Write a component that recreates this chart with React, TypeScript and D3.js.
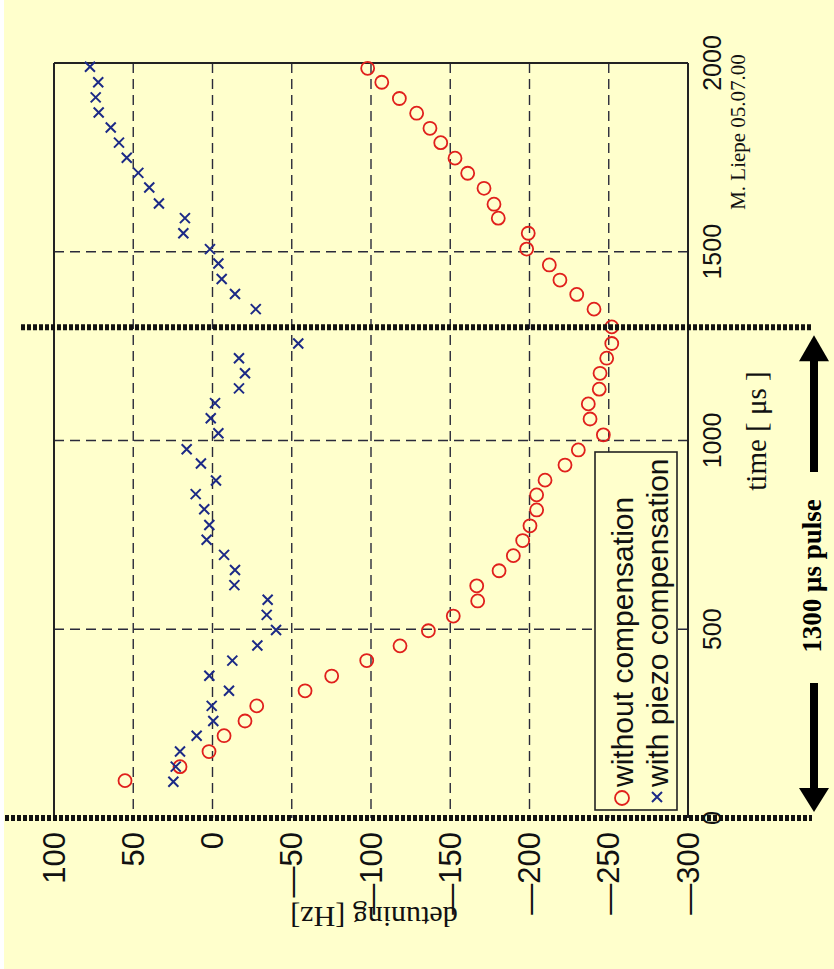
import React from "react";
import * as d3 from "d3";

// ---- data (time in µs, detuning in Hz) ----
const timeTicks = [0, 500, 1000, 1500, 2000];
const detuneTicks = [100, 50, 0, -50, -100, -150, -200, -250, -300];
const gridTimes = [500, 1000, 1500];
const gridDetunes = [50, 0, -50, -100, -150, -200, -250];
const pulseMarks = [0, 1300];

const withoutTime = [99, 136, 176, 218, 257, 297, 337, 376, 417, 456, 496, 535, 575, 615, 655, 695, 735, 774, 816, 856, 895, 935, 975, 1015, 1057, 1097, 1136, 1178, 1218, 1257, 1301, 1348, 1387, 1425, 1465, 1507, 1549, 1589, 1626, 1668, 1708, 1748, 1789, 1827, 1867, 1906, 1949, 1986];
const withoutDetune = [55.2, 20.5, 2.2, -7.3, -20.5, -27.9, -58.4, -75.2, -97.3, -118.3, -136.2, -151.9, -167.3, -166.7, -180.8, -189.8, -195.7, -200.3, -204.5, -204.5, -209.8, -222.4, -230.8, -246.6, -238.2, -237.1, -244.0, -244.5, -248.7, -251.9, -251.9, -240.7, -229.8, -219.2, -212.5, -198.2, -199.2, -180.3, -177.6, -171.3, -161.0, -153.0, -144.0, -137.2, -128.8, -117.9, -106.8, -97.9];

const piezoTime = [96, 136, 176, 218, 257, 297, 337, 377, 417, 457, 498, 538, 578, 617, 657, 697, 737, 776, 818, 858, 894, 939, 977, 1019, 1059, 1099, 1138, 1178, 1218, 1257, 1348, 1388, 1428, 1469, 1507, 1549, 1589, 1628, 1670, 1709, 1749, 1789, 1829, 1869, 1909, 1949, 1990];
const piezoDetune = [24.7, 23.2, 20.5, 10.0, -0.5, 0.5, -10.4, 2.0, -12.5, -28.3, -40.1, -34.2, -34.8, -13.8, -14.2, -7.3, 3.7, 2.0, 5.2, 10.6, -2.2, 7.3, 16.3, -3.7, 1.1, -1.6, -16.7, -20.5, -16.7, -54.1, -27.3, -14.2, -5.8, -3.7, 1.6, 18.4, 17.4, 33.8, 39.9, 46.8, 54.1, 59.0, 64.2, 71.8, 73.7, 72.1, 77.3];

const legendLabels = ["without compensation", "with piezo compensation"];

const SANS = "'Liberation Sans', Arial, Helvetica, sans-serif";
const SERIF = "'Liberation Serif', 'Times New Roman', serif";
const BG = "#FFFFCC";
const RED = "#E0201C";
const BLUE = "#1C2A86";

export default function App() {
  const W = 834, H = 969;
  // detuning -> horizontal, time -> vertical (figure rotated)
  const xs = d3.scaleLinear().domain([100, -300]).range([54, 688]);
  const ys = d3.scaleLinear().domain([0, 2000]).range([818, 63]);
  const [x0, x1] = xs.range();
  const [yb, yt] = ys.range();

  const fmtDet = (d: number) => (d < 0 ? "\u2014" + Math.abs(d) : String(d));
  const cross = (x: number, y: number, s: number) =>
    `M${x - s},${y - s}L${x + s},${y + s}M${x - s},${y + s}L${x + s},${y - s}`;

  const red = withoutTime.map((t, i) => ({ t, d: withoutDetune[i] }));
  const blue = piezoTime.map((t, i) => ({ t, d: piezoDetune[i] }));

  const arrowX = 814;
  const upTip = ys(1300) + 8;
  const downTip = ys(0) - 6;

  return (
    <svg width={W} height={H} style={{ position: "absolute", left: 0, top: 0 }}>
      <rect x={0} y={0} width={W} height={H} fill="#ffffff" />
      <rect x={4} y={0} width={W - 4} height={H} fill={BG} />

      {/* grid */}
      {gridDetunes.map((d) => (
        <line key={"gd" + d} x1={xs(d)} x2={xs(d)} y1={yt} y2={yb} stroke="#2a2a3a" strokeWidth={1.4} strokeDasharray="10,6" />
      ))}
      {gridTimes.map((t) => (
        <line key={"gt" + t} x1={x0} x2={x1} y1={ys(t)} y2={ys(t)} stroke="#2a2a3a" strokeWidth={1.4} strokeDasharray="10,6" />
      ))}

      {/* frame */}
      <line x1={x0} x2={x0} y1={yt} y2={yb} stroke="#222" strokeWidth={2} />
      <line x1={x0} x2={x1} y1={yt} y2={yt} stroke="#222" strokeWidth={2} />
      <line x1={x1} x2={x1} y1={yt} y2={yb} stroke="#222" strokeWidth={2} />

      {/* time tick labels */}
      {timeTicks.map((t) => (
        <text key={"tt" + t} transform={`translate(712,${ys(t)}) rotate(-90)`} textAnchor="middle" dominantBaseline="central" fontFamily={SANS} fontSize={25} fill="#111">
          {t}
        </text>
      ))}
      {/* detuning tick labels */}
      {detuneTicks.map((d) => (
        <text key={"dt" + d} transform={`translate(${xs(d)},832) rotate(-90)`} textAnchor="end" dominantBaseline="central" fontFamily={SANS} fontSize={31} fill="#111">
          {fmtDet(d)}
        </text>
      ))}

      {/* axis titles */}
      <text transform="translate(374,917) rotate(180)" textAnchor="middle" dominantBaseline="central" fontFamily={SERIF} fontSize={30} fill="#111">
        detuning [Hz]
      </text>
      <text transform="translate(756,431) rotate(-90)" textAnchor="middle" dominantBaseline="central" fontFamily={SERIF} fontSize={29} fill="#111">
        time [ μs ]
      </text>
      <text transform="translate(738,132) rotate(-90)" textAnchor="middle" dominantBaseline="central" fontFamily={SERIF} fontSize={21} fill="#111">
        M. Liepe 05.07.00
      </text>

      {/* data */}
      {red.map((p, i) => (
        <circle key={"r" + i} cx={xs(p.d)} cy={ys(p.t)} r={6.5} fill="none" stroke={RED} strokeWidth={1.8} />
      ))}
      {blue.map((p, i) => (
        <path key={"b" + i} d={cross(xs(p.d), ys(p.t), 5)} stroke={BLUE} strokeWidth={2} fill="none" />
      ))}

      {/* legend */}
      <rect x={595} y={452} width={82} height={358} fill={BG} stroke="#222" strokeWidth={1.6} />
      <circle cx={622} cy={798} r={7} fill="none" stroke={RED} strokeWidth={1.8} />
      <path d={cross(657, 797, 5)} stroke={BLUE} strokeWidth={2} fill="none" />
      {legendLabels.map((s, i) => (
        <text key={"lg" + i} transform={`translate(${622 + i * 35},787) rotate(-90)`} textAnchor="start" dominantBaseline="central" fontFamily={SANS} fontSize={30} fill="#111">
          {s}
        </text>
      ))}

      {/* pulse markers */}
      {pulseMarks.map((t) => (
        <line key={"pm" + t} x1={t === 0 ? 5 : 21} x2={812} y1={ys(t)} y2={ys(t)} stroke="#111" strokeWidth={6} strokeDasharray="4,2" />
      ))}

      {/* pulse arrows */}
      <line x1={arrowX} x2={arrowX} y1={upTip + 20} y2={472} stroke="#000" strokeWidth={8} />
      <path d={`M${arrowX},${upTip}L${arrowX - 15},${upTip + 26}L${arrowX + 15},${upTip + 26}Z`} fill="#000" />
      <line x1={arrowX} x2={arrowX} y1={683} y2={downTip - 20} stroke="#000" strokeWidth={8} />
      <path d={`M${arrowX},${downTip}L${arrowX - 15},${downTip - 24}L${arrowX + 15},${downTip - 24}Z`} fill="#000" />
      <text transform={`translate(${arrowX - 2},576) rotate(-90)`} textAnchor="middle" dominantBaseline="central" fontFamily={SERIF} fontWeight="bold" fontSize={27} fill="#000">
        1300 μs pulse
      </text>
    </svg>
  );
}
